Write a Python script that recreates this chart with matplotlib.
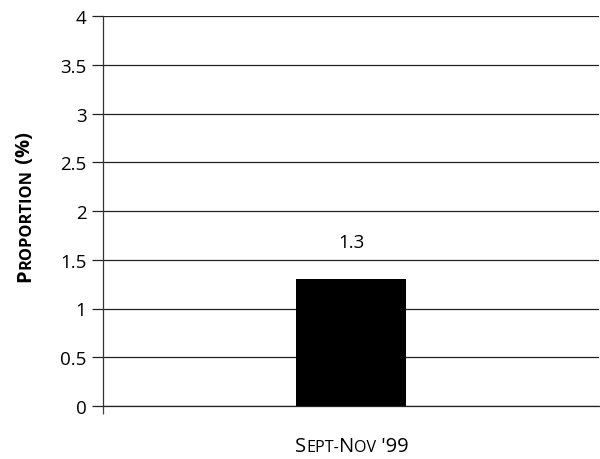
import matplotlib
matplotlib.use("Agg")
import matplotlib.pyplot as plt
from matplotlib.text import Text

categories = ["Sept-Nov '99"]
values = [1.3]
value_labels = ["1.3"]
yticks = [0, 0.5, 1, 1.5, 2, 2.5, 3, 3.5, 4]
ytick_labels = ["0", "0.5", "1", "1.5", "2", "2.5", "3", "3.5", "4"]

FONT = "Open Sans"
plt.rcParams['font.family'] = [FONT, 'DejaVu Sans']

W, H = 600, 460
fig = plt.figure(figsize=(W / 100, H / 100), dpi=100)
ax = fig.add_axes([103 / W, 1 - 407 / H, (599 - 103) / W, (407 - 17) / H])

x = list(range(len(categories)))
ax.bar(x, values, width=0.22, color='black', zorder=3)
ax.set_xlim(-0.5, 0.5)
ax.set_ylim(0, 4)
ax.set_yticks(yticks)
ax.set_yticklabels(ytick_labels, fontsize=13.5)
ax.yaxis.grid(True, color='#222222', linewidth=0.9, zorder=0)
ax.axhline(0, color='#222222', linewidth=0.9, zorder=1, clip_on=False)
ax.tick_params(axis='y', length=8, width=0.9, color='#222222', pad=4)
ax.set_xticks([-0.5])
ax.set_xticklabels([""])
ax.tick_params(axis='x', length=6, width=0.9, color='#444444')
for s in ['top', 'right', 'bottom']:
    ax.spines[s].set_visible(False)
ax.spines['left'].set_color('#333333')
ax.spines['left'].set_linewidth(0.9)

for xi, v, lab in zip(x, values, value_labels):
    ax.annotate(lab, (xi, v), xytext=(0, 32), textcoords='offset pixels',
                ha='center', va='baseline', fontsize=13.5)

fig.canvas.draw()
renderer = fig.canvas.get_renderer()


def measure(s, size, weight):
    t = Text(0, 0, s, fontsize=size, fontweight=weight, family=[FONT, 'DejaVu Sans'])
    t.figure = fig
    w, h, d = renderer.get_text_width_height_descent(s, t.get_fontproperties(), ismath=False)
    return w


def smallcaps(cx, cy, parts, big, small, weight, vertical=False):
    widths = [measure(s.replace(' ', '\u00a0'), big if b else small, weight) for s, b in parts]
    total = sum(widths)
    pos = -total / 2
    for (s, b), w in zip(parts, widths):
        if vertical:
            px, py = cx, cy + pos
            rot = 90
        else:
            px, py = cx + pos, cy
            rot = 0
        fig.text(px / W, 1 - py / H if not vertical else py / H, s.replace(' ', '\u00a0'),
                 fontsize=big if b else small, fontweight=weight,
                 ha='left', va='baseline', rotation=rot, rotation_mode='anchor')
        pos += w


# x label
smallcaps(352, 452, [("S", True), ("EPT-", False), ("N", True), ("OV", False), (" '99", True)],
          14.5, 11.6, 'normal')
# y label (rotated)
smallcaps(30, H - 207, [("P", True), ("ROPORTION", False), (" (%)", True)],
          14.5, 11.8, 'bold', vertical=True)

fig.savefig("out.png", dpi=100)
